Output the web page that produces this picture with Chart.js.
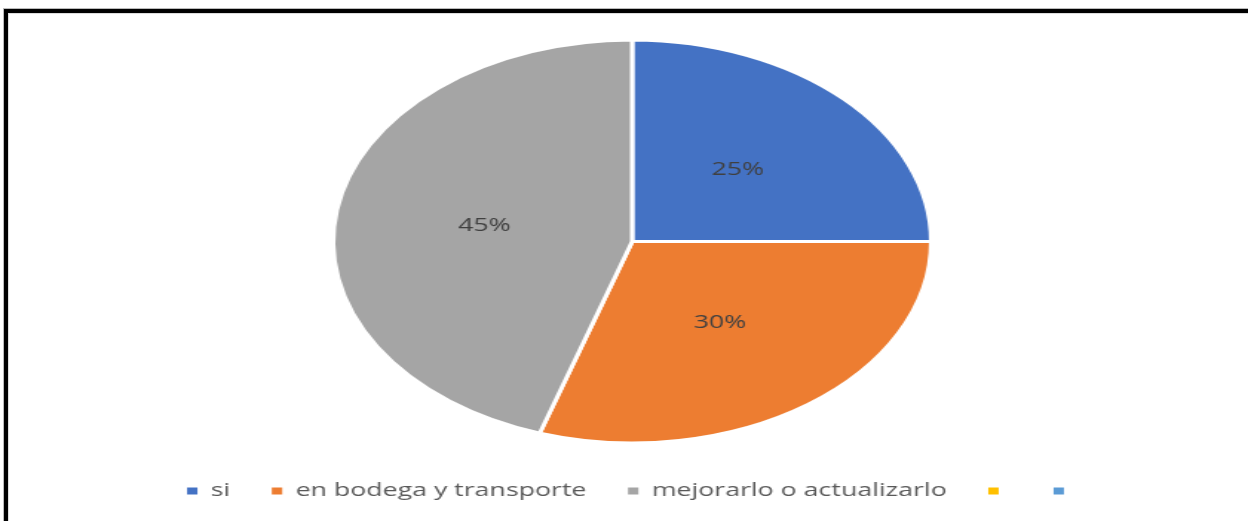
<!DOCTYPE html>
<html>
<head>
<meta charset="utf-8">
<script src="https://cdn.jsdelivr.net/npm/chart.js@4.4.1/dist/chart.umd.min.js"></script>
<style>
  html, body { margin: 0; padding: 0; background: #fff; overflow: hidden; }
  body { width: 1248px; height: 521px; position: relative; }
  /* the source picture is stretched sideways, so the canvas is scaled in x */
  #chart { position: absolute; left: 0; top: 0; transform-origin: 0 0; transform: scaleX(1.48395); }
  .frame {
    position: absolute; left: 4px; top: 9px; width: 1300px; height: 600px;
    border-top: 4px solid #000; border-left: 4px solid #000;
    box-shadow: -1px -1px 0 #bbb, inset 1px 1px 0 #ddd;
  }
</style>
</head>
<body>
<canvas id="chart" width="841" height="521"></canvas>
<div class="frame"></div>
<script>
const labels = ['si', 'en bodega y transporte', 'mejorarlo o actualizarlo', '', ''];
const values = [25, 30, 45, 0, 0];
const colors = ['#4472C4', '#ED7D31', '#A5A5A5', '#FFC000', '#5B9BD5'];

// percent labels in the middle of each slice
const sliceLabels = {
  id: 'sliceLabels',
  afterDatasetsDraw(chart) {
    const ctx = chart.ctx;
    const meta = chart.getDatasetMeta(0);
    ctx.save();
    ctx.font = '18px "Open Sans"';
    ctx.fillStyle = '#404040';
    ctx.textAlign = 'center';
    ctx.textBaseline = 'middle';
    meta.data.forEach((arc, i) => {
      if (!values[i]) return;
      const p = arc.tooltipPosition();
      ctx.fillText(values[i] + '%', p.x, p.y);
    });
    ctx.restore();
  }
};

const defaultLabels = Chart.overrides.pie.plugins.legend.labels.generateLabels;

new Chart(document.getElementById('chart'), {
  type: 'pie',
  data: {
    labels,
    datasets: [{
      data: values,
      backgroundColor: colors,
      borderColor: '#ffffff',
      borderWidth: 3
    }]
  },
  options: {
    responsive: false,
    animation: false,
    radius: 201.5,
    layout: { padding: { top: 29, bottom: 11, left: 11, right: 0 } },
    plugins: {
      tooltip: { enabled: false },
      legend: {
        position: 'bottom',
        labels: {
          boxWidth: 7,
          boxHeight: 7,
          padding: 28,
          color: '#595959',
          font: { family: 'Open Sans', size: 18 },
          generateLabels(chart) {
            return defaultLabels(chart).map(item => ({ ...item, lineWidth: 0, hidden: false }));
          }
        }
      }
    }
  },
  plugins: [sliceLabels]
});
</script>
</body>
</html>
